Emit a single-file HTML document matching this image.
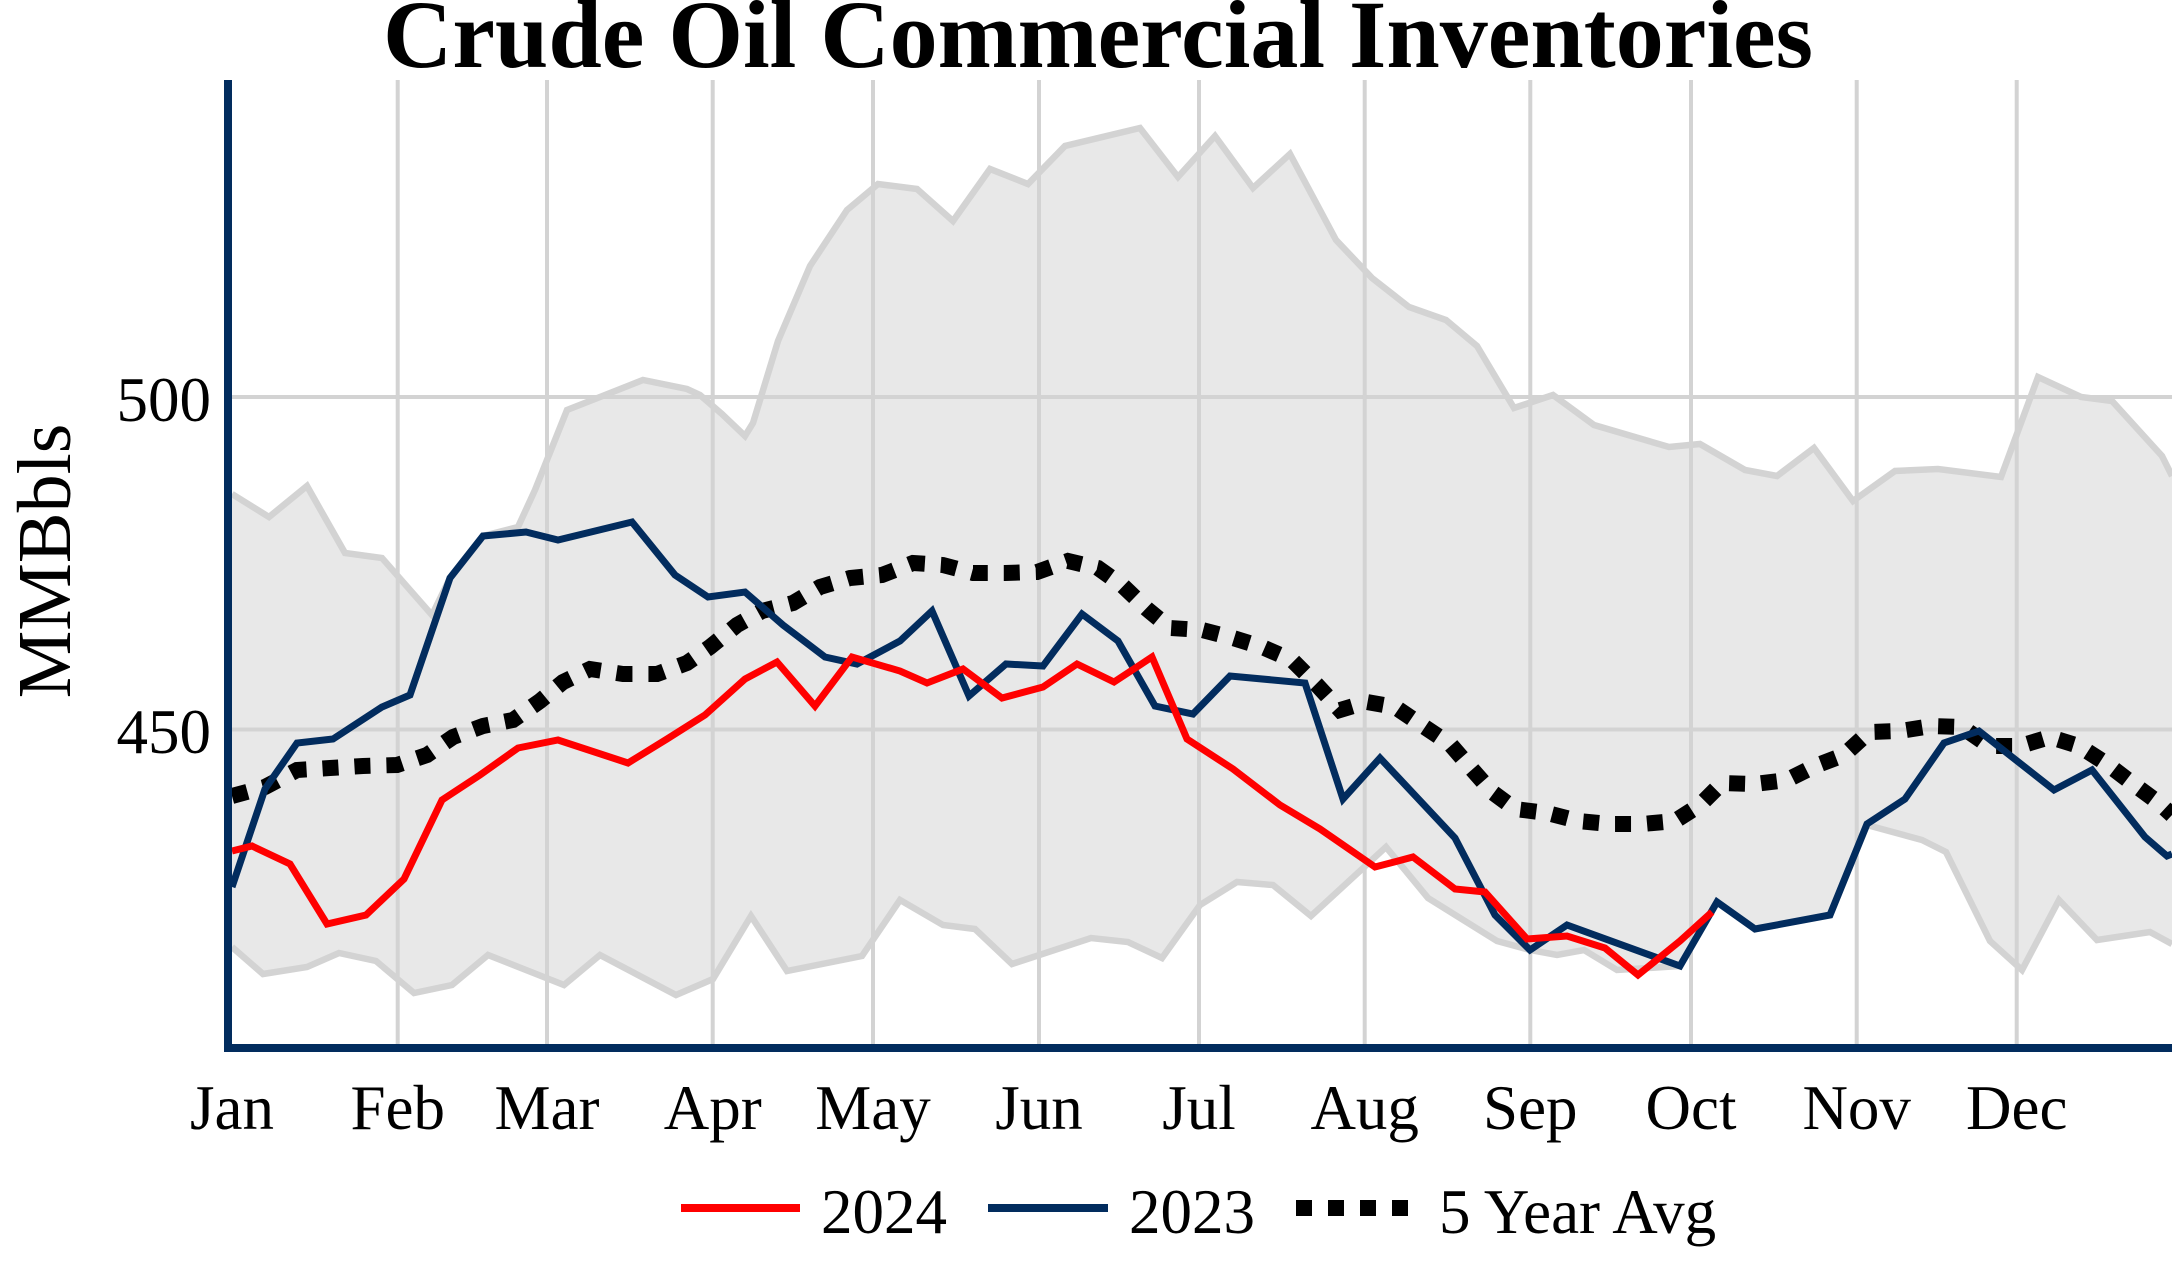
<!DOCTYPE html>
<html>
<head>
<meta charset="utf-8">
<style>
  html, body { margin: 0; padding: 0; background: #ffffff; }
  svg { display: block; }
  text { font-family: "Liberation Serif", "Times New Roman", serif; fill: #000; }
</style>
</head>
<body>
<svg width="2172" height="1276" viewBox="0 0 2172 1276" xmlns="http://www.w3.org/2000/svg">
  <rect x="0" y="0" width="2172" height="1276" fill="#ffffff"/>
  <defs>
    <clipPath id="plot">
      <rect x="228" y="80" width="1944" height="968"/>
    </clipPath>
  </defs>

  <g clip-path="url(#plot)">
    <!-- 5-year range fill -->
    <polygon fill="#e8e8e8" stroke="none" points="232,494 269,517 307,486 345,553 382,558 432,615 450,578 483,536 518,527 535,490 567,410 600,397 643,380 687,389 700,395 722,414 745,436 753,423 778,341 810,266 847,210 878,184 917,189 953,221 990,169 1028,184 1065,146 1140,128 1178,177 1215,136 1253,188 1290,154 1336,240 1372,278 1409,307 1446,320 1477,346 1514,408 1553,395 1594,425 1669,447 1700,444 1745,470 1777,476 1814,448 1853,501 1895,471 1938,469 2001,477 2038,377 2081,397 2112,401 2162,456 2172,476 2172,944 2150,932 2097,940 2059,900 2022,970 1990,941 1946,852 1922,840 1867,825 1830,915 1755,929 1717,902 1680,966 1617,970 1584,950 1557,955 1530,950 1497,941 1428,898 1386,847 1311,916 1273,885 1237,882 1200,905 1162,958 1128,942 1091,938 1012,964 975,929 943,925 900,900 862,956 787,971 751,916 713,979 676,995 600,955 564,985 488,955 452,985 414,993 376,961 339,953 307,967 263,974 232,947"/>

    <!-- gridlines -->
    <g stroke="#d3d3d3" stroke-width="4" fill="none">
      <line x1="232" y1="397" x2="2172" y2="397"/>
      <line x1="232" y1="729.5" x2="2172" y2="729.5"/>
      <line x1="397.7" y1="80" x2="397.7" y2="1044"/>
      <line x1="547" y1="80" x2="547" y2="1044"/>
      <line x1="712.7" y1="80" x2="712.7" y2="1044"/>
      <line x1="873" y1="80" x2="873" y2="1044"/>
      <line x1="1039" y1="80" x2="1039" y2="1044"/>
      <line x1="1199" y1="80" x2="1199" y2="1044"/>
      <line x1="1364.7" y1="80" x2="1364.7" y2="1044"/>
      <line x1="1530.3" y1="80" x2="1530.3" y2="1044"/>
      <line x1="1691" y1="80" x2="1691" y2="1044"/>
      <line x1="1856.7" y1="80" x2="1856.7" y2="1044"/>
      <line x1="2016.7" y1="80" x2="2016.7" y2="1044"/>
    </g>

    <!-- band outline lines -->
    <polyline fill="none" stroke="#d3d3d3" stroke-width="6.5" points="232,494 269,517 307,486 345,553 382,558 432,615 450,578 483,536 518,527 535,490 567,410 600,397 643,380 687,389 700,395 722,414 745,436 753,423 778,341 810,266 847,210 878,184 917,189 953,221 990,169 1028,184 1065,146 1140,128 1178,177 1215,136 1253,188 1290,154 1336,240 1372,278 1409,307 1446,320 1477,346 1514,408 1553,395 1594,425 1669,447 1700,444 1745,470 1777,476 1814,448 1853,501 1895,471 1938,469 2001,477 2038,377 2081,397 2112,401 2162,456 2172,476"/>
    <polyline fill="none" stroke="#d3d3d3" stroke-width="6.5" points="232,947 263,974 307,967 339,953 376,961 414,993 452,985 488,955 564,985 600,955 676,995 713,979 751,916 787,971 862,956 900,900 943,925 975,929 1012,964 1091,938 1128,942 1162,958 1200,905 1237,882 1273,885 1311,916 1386,847 1428,898 1497,941 1530,950 1557,955 1584,950 1617,970 1680,966 1717,902 1755,929 1830,915 1867,825 1922,840 1946,852 1990,941 2022,970 2059,900 2097,940 2150,932 2172,944"/>

    <!-- 5 Year Avg -->
    <polyline fill="none" stroke="#000000" stroke-width="16" stroke-dasharray="16,16" points="232,796 265,787 297,770 330,768 363,766 397,765 427,755 453,737 483,726 513,720 540,701 563,682 590,669 623,674 657,674 687,663 710,647 737,625 762,611 793,603 820,587 850,578 882,575 913,563 943,565 973,573 1005,573 1037,572 1068,561 1098,568 1123,586 1147,609 1170,628 1202,630 1233,638 1262,647 1292,660 1317,685 1340,710 1367,702 1395,707 1423,726 1450,744 1470,767 1492,792 1515,809 1547,813 1578,821 1610,824 1642,824 1675,821 1700,805 1722,783 1755,784 1787,780 1815,766 1844,755 1869,732 1900,731 1932,726 1962,727 1989,746 2020,746 2050,737 2079,746 2107,764 2132,783 2159,803 2172,815"/>

    <!-- 2023 -->
    <polyline fill="none" stroke="#022c5e" stroke-width="7" points="232,887 265,789 297,743 333,739 382,707 410,695 450,578 483,536 526,532 558,540 632,522 675,575 708,597 745,592 783,625 825,657 857,664 900,641 932,611 969,696 1006,664 1043,666 1082,614 1118,641 1155,706 1193,714 1230,676 1305,683 1343,799 1380,758 1455,838 1495,915 1530,950 1567,925 1680,966 1717,902 1755,929 1830,915 1867,824 1905,799 1944,743 1979,731 2054,790 2092,770 2145,837 2167,856 2172,854"/>

    <!-- 2024 -->
    <polyline fill="none" stroke="#ff0000" stroke-width="7" points="232,851 252,846 290,864 327,924 366,915 404,879 442,800 480,775 518,748 558,740 628,763 667,739 705,715 745,679 777,662 815,706 852,657 900,671 927,683 963,669 1002,698 1043,687 1077,664 1114,682 1152,657 1187,739 1233,769 1280,805 1320,829 1375,867 1413,857 1455,889 1485,892 1527,939 1567,936 1605,948 1638,975 1680,941 1712,912"/>
  </g>

  <!-- axes -->
  <line x1="228" y1="80" x2="228" y2="1052" stroke="#022c5e" stroke-width="8"/>
  <line x1="224" y1="1048" x2="2172" y2="1048" stroke="#022c5e" stroke-width="8"/>

  <!-- title -->
  <text x="1098" y="67" font-size="96" font-weight="bold" text-anchor="middle">Crude Oil Commercial Inventories</text>

  <!-- y axis title -->
  <text x="70" y="561" font-size="76" text-anchor="middle" transform="rotate(-90 70 561)">MMBbls</text>

  <!-- y tick labels -->
  <text x="211" y="421" font-size="63" text-anchor="end">500</text>
  <text x="211" y="753" font-size="63" text-anchor="end">450</text>

  <!-- x tick labels -->
  <g font-size="63" text-anchor="middle">
    <text x="232" y="1129">Jan</text>
    <text x="397.7" y="1129">Feb</text>
    <text x="547" y="1129">Mar</text>
    <text x="712.7" y="1129">Apr</text>
    <text x="873" y="1129">May</text>
    <text x="1039" y="1129">Jun</text>
    <text x="1199" y="1129">Jul</text>
    <text x="1364.7" y="1129">Aug</text>
    <text x="1530.3" y="1129">Sep</text>
    <text x="1691" y="1129">Oct</text>
    <text x="1856.7" y="1129">Nov</text>
    <text x="2016.7" y="1129">Dec</text>
  </g>

  <!-- legend -->
  <line x1="681" y1="1208" x2="800" y2="1208" stroke="#ff0000" stroke-width="8"/>
  <text x="821" y="1233" font-size="63">2024</text>
  <line x1="988" y1="1208" x2="1108" y2="1208" stroke="#022c5e" stroke-width="8"/>
  <text x="1129" y="1233" font-size="63">2023</text>
  <line x1="1296" y1="1208" x2="1408" y2="1208" stroke="#000000" stroke-width="16" stroke-dasharray="16,16"/>
  <text x="1439" y="1233" font-size="63">5 Year Avg</text>
</svg>
</body>
</html>
